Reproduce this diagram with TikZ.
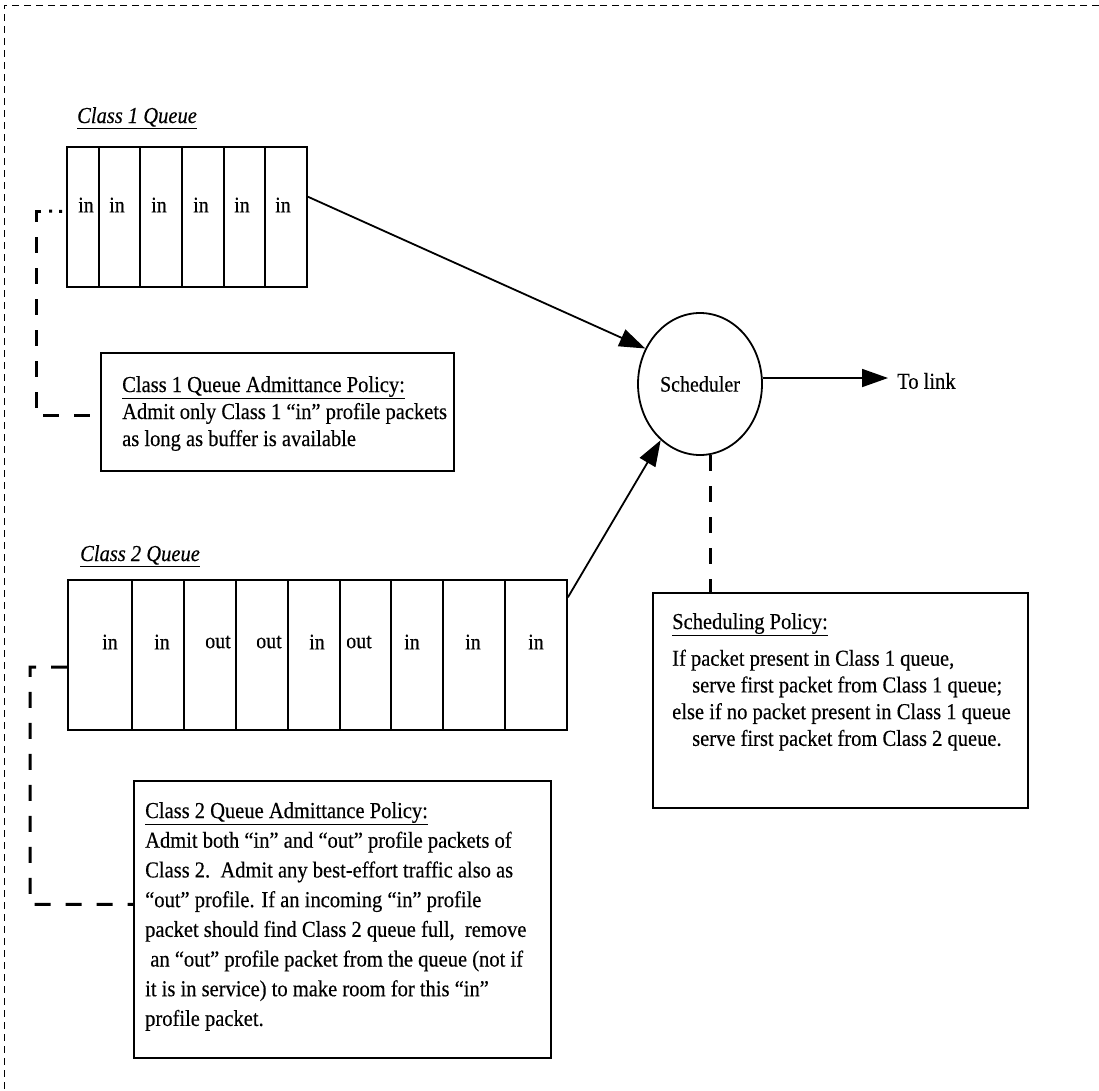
\documentclass[tikz,border=0pt]{standalone}
\usepackage{fontspec}
\setmainfont{Liberation Serif}[FakeStretch=0.9,FakeBold=0.35]
\usetikzlibrary{shapes.geometric,arrows.meta,calc}
\begin{document}
\begin{tikzpicture}[x=1pt,y=-1pt,
  queuebox/.style={draw,line width=1.8pt,inner sep=0pt},
  policybox/.style={draw,line width=1.8pt,inner sep=0pt,anchor=north west},
  bodytext/.style={inner sep=0pt,anchor=north west,align=left},
  pktlabel/.style={inner sep=0pt,font=\fontsize{22.2}{26}\selectfont},
  queuetitle/.style={inner sep=0pt,anchor=base west,font=\fontsize{22.8}{26}\selectfont\itshape},
  flow/.style={line width=1.8pt,-{Triangle[length=26pt,width=18pt]}},
  policylink/.style={line width=3pt,dash pattern=on 16pt off 15pt},
  dotlink/.style={line width=3pt,dash pattern=on 0pt off 4pt on 3pt off 7pt on 3pt off 100pt},
  framedash/.style={line width=0.8pt,dash pattern=on 7pt off 5pt}
]
\useasboundingbox (0,0) rectangle (1099,1090);

% outer frame (top and left edges)
\draw[framedash] (1099,5) -- (4,5) -- (4,1090);

% ---------- Class 1 queue ----------
\node[queuetitle] (q1title) at (77,123) {\underline{Class 1 Queue}};
\node[queuebox,minimum width=240pt,minimum height=140pt] (q1) at (187,217) {};
\foreach \x in {99,140,182,224,265}
  \draw[line width=1.8pt] (\x,147) -- (\x,287);
\foreach \x [count=\i] in {86,117,159,201,242,283}
  \node[pktlabel] (q1p\i) at (\x,205) {in};

% ---------- Class 2 queue ----------
\node[queuetitle] (q2title) at (80,561) {\underline{Class 2 Queue}};
\node[queuebox,minimum width=499pt,minimum height=150pt] (q2) at (317.5,655) {};
\foreach \x in {132,184,236,288,340,391,443,505}
  \draw[line width=1.8pt] (\x,580) -- (\x,730);
\foreach \x/\t [count=\i] in {110/in,162/in,218/out,269/out,317/in,359/out,412/in,473/in,536/in}
  \node[pktlabel] (q2p\i) at (\x,642) {\t};

% ---------- scheduler ----------
\node[draw,ellipse,line width=1.8pt,minimum width=124pt,minimum height=142pt,inner sep=0pt,
      font=\fontsize{22.2}{26}\selectfont] (sched) at (700,384) {Scheduler};
\node[inner sep=0pt,anchor=west,font=\fontsize{22.8}{26}\selectfont] (tolink) at (897,381) {To link};

% ---------- policy boxes ----------
\node[policybox,minimum width=353pt,minimum height=118pt] (p1) at (100,352) {};
\node[bodytext,font=\fontsize{22.8}{27}\selectfont] (p1text) at (122,376) {%
\underline{Class 1 Queue Admittance Policy:}\\
Admit only Class 1 “in” profile packets\\
as long as buffer is available};

\node[policybox,minimum width=417pt,minimum height=277pt] (p2) at (133,780) {};
\node[bodytext,font=\fontsize{22.8}{29.7}\selectfont] (p2text) at (145,802) {%
\underline{Class 2 Queue Admittance Policy:}\\
Admit both “in” and “out” profile packets of\\
Class 2.\ \ Admit any best-effort traffic also as\\
“out” profile. If an incoming “in” profile\\
packet should find Class 2 queue full,\ \ remove\\
\ an “out” profile packet from the queue (not if\\
it is in service) to make room for this “in”\\
profile packet.};

\node[policybox,minimum width=375pt,minimum height=215pt] (sp) at (652,592) {};
\node[bodytext,font=\fontsize{22.8}{26.7}\selectfont] (sptext) at (672,613) {%
\underline{Scheduling Policy:}\\[10pt]
If packet present in Class 1 queue,\\
\hspace*{20pt}serve first packet from Class 1 queue;\\
else if no packet present in Class 1 queue\\
\hspace*{20pt}serve first packet from Class 2 queue.};

% ---------- packet flow ----------
\coordinate (q1out) at ($(q1.north east)!0.357!(q1.south east)$);
\coordinate (q2out) at ($(q2.north east)!0.12!(q2.south east)$);
\draw[flow] (q1out) -- (sched.147);
\draw[flow] (q2out) -- (sched.235);
\draw[flow,shorten >=9pt] ([yshift=6pt]sched.east) -- ([yshift=6pt]sched.east -| tolink.west);

% ---------- policy attachments ----------
\coordinate (q1port) at ($(q1.north west)!0.46!(q1.south west)$);
\coordinate (c1bend) at (36,211);
\draw[dotlink] (q1port) -- (c1bend);
\draw[policylink] ($(c1bend)+(5,0)$) -- (c1bend) |- ([yshift=-4pt]p1.west);

\coordinate (q2port) at ($(q2.north west)!0.58!(q2.south west)$);
\coordinate (c2bend) at (30,667);
\draw[policylink] (q2port) -- (c2bend) |- ([yshift=15pt]p2.west);

\coordinate (schedfoot) at (710,455);
\draw[policylink] (schedfoot) -- (schedfoot |- sp.north);

\end{tikzpicture}
\end{document}
